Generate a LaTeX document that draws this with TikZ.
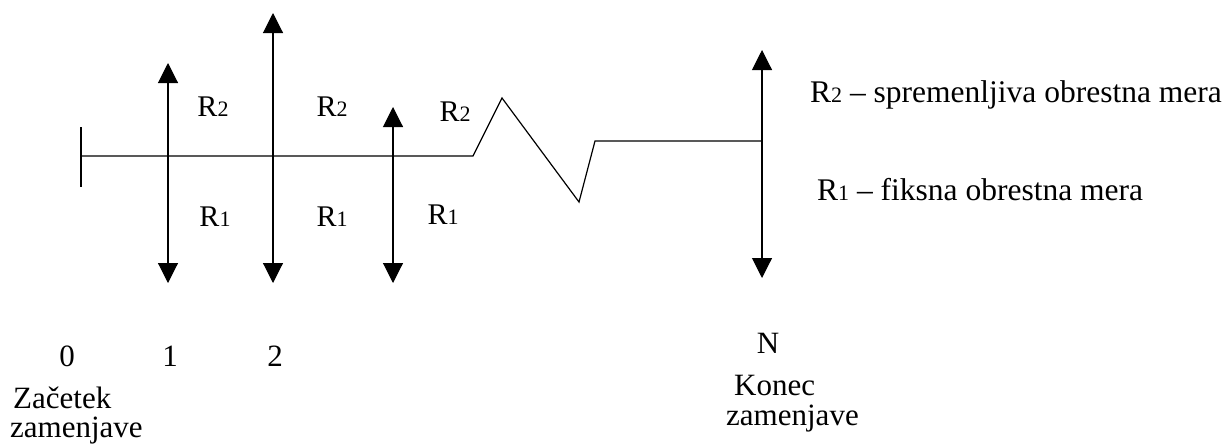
\documentclass[tikz,border=0pt]{standalone}
\usepackage{fontspec}
\setmainfont{Liberation Serif}
\usetikzlibrary{arrows.meta}
\newcommand{\Rsub}[1]{R{\fontsize{22}{22}\selectfont #1}}
\begin{document}
\begin{tikzpicture}[x=1pt,y=-1pt,
  axis/.style={line width=1.2pt},
  flow/.style={line width=1.1pt,{Triangle[width=20pt,length=20pt]}-{Triangle[width=20pt,length=20pt]}},
  rlab/.style={inner sep=0pt,font=\fontsize{30}{30}\selectfont},
  leg/.style={inner sep=0pt,anchor=west,font=\fontsize{31.5}{31.5}\selectfont},
  btxt/.style={inner sep=0pt,font=\fontsize{31}{29}\selectfont}]
\useasboundingbox (0,0) rectangle (1230,445);
% axis
\coordinate (s) at (81,156);
\coordinate (sT) at (81,127);
\coordinate (sB) at (81,187);
\coordinate (z0) at (473,156);
\coordinate (z1) at (502,98);
\coordinate (z2) at (579,202);
\coordinate (z3) at (595,141);
\coordinate (e) at (762,141);
\draw[axis] (sT) -- (sB);
\draw[axis] (s) -- (z0) -- (z1) -- (z2) -- (z3) -- (e);
% flows
\coordinate (a1t) at (168,63);  \coordinate (a1b) at (168,283);
\coordinate (a2t) at (273,13);  \coordinate (a2b) at (273,283);
\coordinate (a3t) at (393,107); \coordinate (a3b) at (393,283);
\coordinate (aNt) at (762,50);  \coordinate (aNb) at (762,278);
\draw[flow] (a1t) -- (a1b);
\draw[flow] (a2t) -- (a2b);
\draw[flow] (a3t) -- (a3b);
\draw[flow] (aNt) -- (aNb);
% labels
\node[rlab] (u1) at (213,107) {\Rsub{2}};
\node[rlab] (u2) at (332,107) {\Rsub{2}};
\node[rlab] (u3) at (455,112) {\Rsub{2}};
\node[rlab] (d1) at (215,217) {\Rsub{1}};
\node[rlab] (d2) at (332,217) {\Rsub{1}};
\node[rlab] (d3) at (443,215) {\Rsub{1}};
% legend
\node[leg] (l2) at (810,95) {R{\fontsize{22}{22}\selectfont 2} – spremenljiva obrestna mera};
\node[leg] (l1) at (817,190) {R{\fontsize{22}{22}\selectfont 1} – fiksna obrestna mera};
% bottom
\node[btxt] (n0) at (67,356) {0};
\node[btxt] (n1) at (170,356) {1};
\node[btxt] (n2) at (275,356) {2};
\node[btxt] (nN) at (768,343) {N};
\node[btxt,align=left,anchor=north west] (zc) at (10,387) {\hspace*{3pt}Začetek\\zamenjave};
\node[btxt,align=left,anchor=north west,font=\fontsize{31}{30}\selectfont] (kc) at (726,375) {\hspace*{8pt}Konec\\zamenjave};
\end{tikzpicture}
\end{document}
